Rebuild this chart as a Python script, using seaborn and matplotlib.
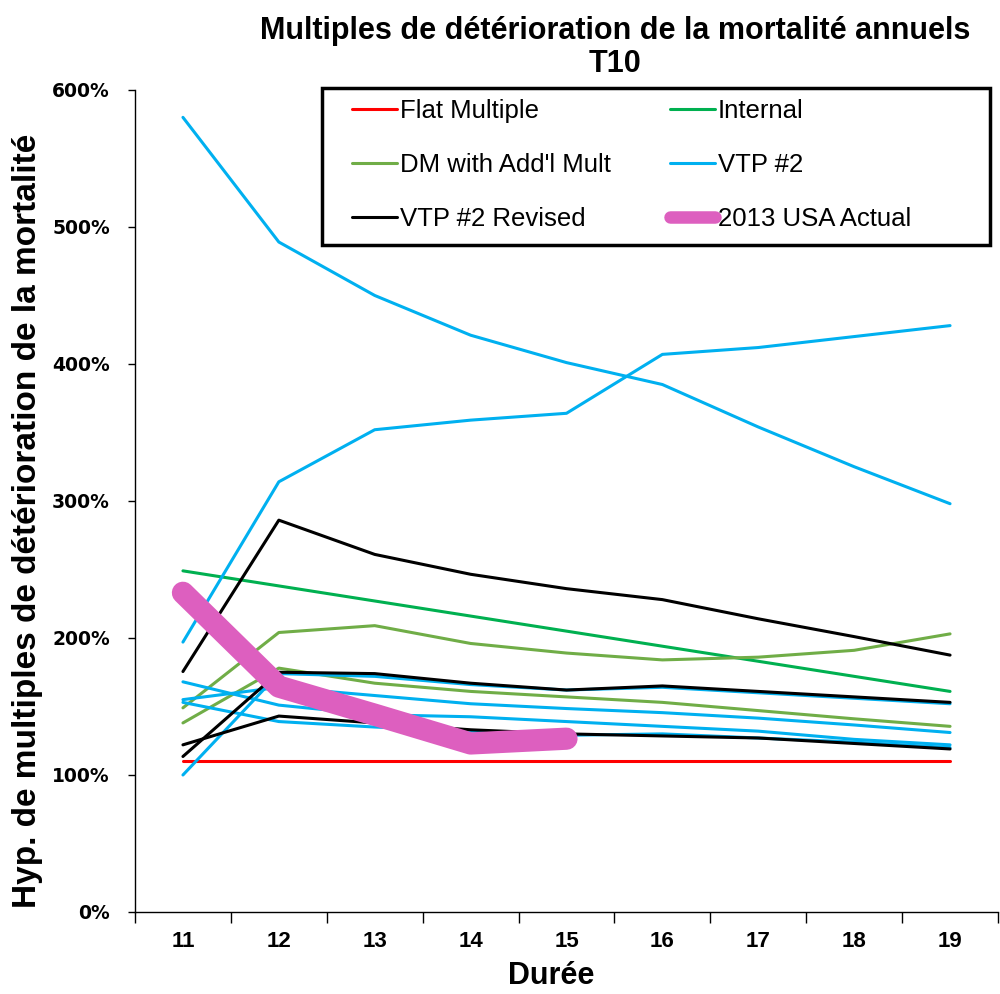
import matplotlib
matplotlib.use("Agg")
import matplotlib.pyplot as plt
from matplotlib.ticker import PercentFormatter, FixedLocator
from matplotlib.patches import Rectangle
import seaborn as sns
import pandas as pd

# Policy durations
durations = [11, 12, 13, 14, 15, 16, 17, 18, 19]

# Deterioration multiples (1.0 = 100%)
flat_multiple = [1.10, 1.10, 1.10, 1.10, 1.10, 1.10, 1.10, 1.10, 1.10]
internal = [2.49, 2.38, 2.27, 2.16, 2.05, 1.94, 1.83, 1.72, 1.61]
dm_addl_1 = [1.49, 2.04, 2.09, 1.96, 1.89, 1.84, 1.86, 1.91, 2.03]
dm_addl_2 = [1.38, 1.78, 1.67, 1.61, 1.57, 1.53, 1.47, 1.41, 1.355]
vtp2_1 = [5.80, 4.89, 4.50, 4.21, 4.01, 3.85, 3.54, 3.25, 2.98]
vtp2_2 = [1.97, 3.14, 3.52, 3.59, 3.64, 4.07, 4.12, 4.20, 4.28]
vtp2_3 = [1.00, 1.74, 1.72, 1.66, 1.62, 1.64, 1.60, 1.56, 1.52]
vtp2_4 = [1.55, 1.64, 1.58, 1.52, 1.485, 1.455, 1.415, 1.365, 1.31]
vtp2_5 = [1.68, 1.51, 1.44, 1.425, 1.39, 1.355, 1.32, 1.26, 1.22]
vtp2_6 = [1.53, 1.39, 1.35, 1.32, 1.29, 1.30, 1.27, 1.24, 1.20]
vtp2_rev_1 = [1.755, 2.86, 2.61, 2.465, 2.36, 2.28, 2.14, 2.01, 1.875]
vtp2_rev_2 = [1.135, 1.75, 1.74, 1.67, 1.62, 1.65, 1.61, 1.57, 1.53]
vtp2_rev_3 = [1.22, 1.43, 1.38, 1.33, 1.30, 1.285, 1.27, 1.23, 1.19]
usa_2013_durations = [11, 12, 13, 14, 15]
usa_2013 = [2.33, 1.645, 1.44, 1.23, 1.265]

C_RED = "#FF0000"
C_INTERNAL = "#00B050"
C_DM = "#70AD47"
C_VTP = "#00B0F0"
C_REV = "#000000"
C_PINK = "#DD5FBF"

sns.set_style("white")
plt.rcParams["font.family"] = ["Liberation Sans", "DejaVu Sans"]
for key in ("text.color", "axes.labelcolor", "xtick.color", "ytick.color"):
    plt.rcParams[key] = "black"

fig = plt.figure(figsize=(10, 9.94), dpi=100)
ax = fig.add_axes([0.135, 0.0825, 0.863, 0.827])

thin = 2.2
series = [
    (flat_multiple, C_RED, "Flat Multiple"),
    (internal, C_INTERNAL, "Internal"),
    (dm_addl_1, C_DM, "DM with Add'l Mult"),
    (dm_addl_2, C_DM, None),
    (vtp2_1, C_VTP, "VTP #2"),
    (vtp2_2, C_VTP, None),
    (vtp2_3, C_VTP, None),
    (vtp2_4, C_VTP, None),
    (vtp2_5, C_VTP, None),
    (vtp2_6, C_VTP, None),
    (vtp2_rev_1, C_REV, "VTP #2 Revised"),
    (vtp2_rev_2, C_REV, None),
    (vtp2_rev_3, C_REV, None),
]

handles = {}
for values, color, label in series:
    df = pd.DataFrame({"duration": durations, "multiple": values})
    sns.lineplot(data=df, x="duration", y="multiple", color=color, lw=thin,
                 ax=ax, legend=False)
    if label:
        handles[label] = ax.lines[-1]

df_usa = pd.DataFrame({"duration": usa_2013_durations, "multiple": usa_2013})
sns.lineplot(data=df_usa, x="duration", y="multiple", color=C_PINK, lw=16,
             ax=ax, legend=False, solid_capstyle="round", solid_joinstyle="round")
handles["2013 USA Actual"] = ax.lines[-1]

# Axes
ax.set_xlim(10.5, 19.5)
ax.set_ylim(0, 6)
for side in ("top", "right"):
    ax.spines[side].set_visible(False)
for side in ("left", "bottom"):
    ax.spines[side].set_color("black")
    ax.spines[side].set_linewidth(1.0)

ax.yaxis.set_major_locator(FixedLocator([0, 1, 2, 3, 4, 5, 6]))
ax.yaxis.set_major_formatter(PercentFormatter(1.0, decimals=0))
ax.tick_params(axis="y", which="major", direction="out", length=5, width=1,
               left=True, pad=13, color="black")
for t in ax.get_yticklabels():
    t.set_fontweight("bold")
    t.set_family("DejaVu Sans")
    t.set_fontsize(13.5)

ax.xaxis.set_major_locator(FixedLocator([x - 0.5 for x in durations] + [19.5]))
ax.xaxis.set_minor_locator(FixedLocator(durations))
ax.xaxis.set_major_formatter(plt.NullFormatter())
ax.xaxis.set_minor_formatter(plt.FixedFormatter([str(d) for d in durations]))
ax.tick_params(axis="x", which="major", direction="out", length=8, width=1,
               bottom=True, color="black")
ax.tick_params(axis="x", which="minor", length=0, labelsize=16, pad=14)
for t in ax.xaxis.get_minorticklabels():
    t.set_fontweight("bold")

ax.set_xlabel("Durée", fontsize=22, fontweight="bold")
ax.xaxis.set_label_coords(0.482, -0.078, transform=ax.transAxes)
ax.xaxis.label.set_va("center")
ax.set_ylabel("Hyp. de multiples de détérioration de la mortalité",
              fontsize=24, fontweight="bold")
ax.yaxis.set_label_coords(28 / 1000, 0.476, transform=fig.transFigure)
ax.yaxis.label.set_va("center")

fig.text(0.615, 0.984, "Multiples de détérioration de la mortalité annuels\nT10",
         ha="center", va="top", fontsize=22, fontweight="bold", linespacing=1.15)

# Legend with a hand-sized frame
order = ["Flat Multiple", "DM with Add'l Mult", "VTP #2 Revised",
         "Internal", "VTP #2", "2013 USA Actual"]
leg = ax.legend([handles[k] for k in order], order, ncol=2,
                loc="upper left", bbox_to_anchor=(0.2515, 0.989),
                frameon=False, fontsize=18.5,
                handlelength=1.75, handletextpad=0.1, labelspacing=1.16,
                borderpad=0, columnspacing=2.33, borderaxespad=0)
for h in leg.legend_handles:
    if h.get_linewidth() > 10:
        h.set_linewidth(9)
ax.add_patch(Rectangle((0.2167, 0.8114), 0.9907 - 0.2167, 1.0024 - 0.8114,
                       transform=ax.transAxes, fill=False, edgecolor="black",
                       linewidth=2.5, clip_on=False, zorder=5))

fig.savefig("out.png", dpi=100, facecolor="white")
